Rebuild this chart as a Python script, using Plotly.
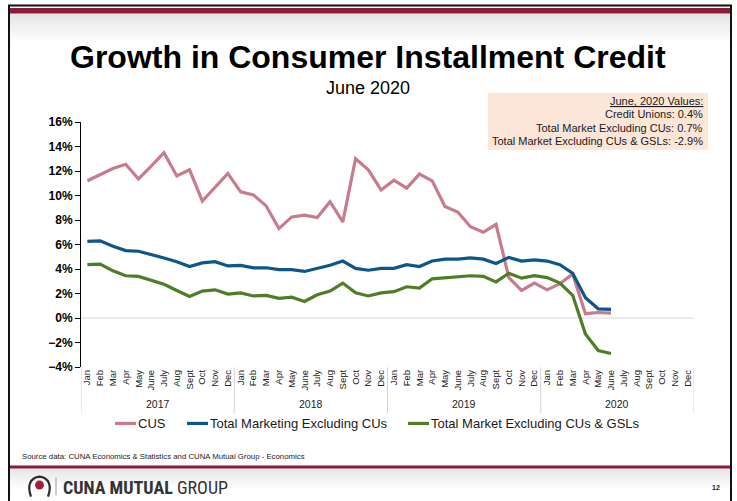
import plotly.graph_objects as go

# ---- data -------------------------------------------------------------
months = ["Jan", "Feb", "Mar", "Apr", "May", "June", "July", "Aug", "Sept", "Oct", "Nov", "Dec"]
years = ["2017", "2018", "2019", "2020"]

cus = [11.2, 11.7, 12.2, 12.55, 11.35, 12.4, 13.5, 11.6, 12.1, 9.55, 10.7, 11.8,
       10.3, 10.05, 9.15, 7.3, 8.25, 8.4, 8.2, 9.5, 7.85, 13.0, 12.1, 10.45,
       11.25, 10.6, 11.75, 11.2, 9.1, 8.65, 7.45, 7.0, 7.65, 3.3, 2.25, 2.85,
       2.3, 2.8, 3.6, 0.35, 0.45, 0.4]
total_ex_cu = [6.25, 6.3, 5.85, 5.5, 5.45, 5.2, 4.9, 4.6, 4.2, 4.5, 4.6, 4.25,
               4.3, 4.1, 4.1, 3.95, 3.95, 3.8, 4.05, 4.3, 4.65, 4.05, 3.9, 4.05,
               4.05, 4.35, 4.2, 4.65, 4.8, 4.8, 4.9, 4.8, 4.45, 4.95, 4.65, 4.75,
               4.65, 4.35, 3.65, 1.65, 0.75, 0.7]
total_ex_cu_gsl = [4.35, 4.4, 3.85, 3.45, 3.4, 3.1, 2.75, 2.25, 1.75, 2.2, 2.3, 1.95,
                   2.05, 1.8, 1.85, 1.6, 1.7, 1.35, 1.9, 2.2, 2.85, 2.05, 1.8, 2.05,
                   2.15, 2.55, 2.45, 3.2, 3.3, 3.4, 3.45, 3.4, 2.95, 3.65, 3.25, 3.45,
                   3.3, 2.85, 1.85, -1.3, -2.65, -2.9]

series_names = ["CUS", "Total Marketing Excluding CUs", "Total Market Excluding CUs & GSLs"]
series_colors = ["#c97a8c", "#0d5689", "#4f7d26"]

# ---- page geometry (pixels) ------------------------------------------
W_PX, H_PX = 737, 501
L, T, R, B = 81, 122.3, 694, 366.7
PW, PH = R - L, B - T


def px(x):
    return (x - L) / PW


def py(y):
    return 1 - (y - T) / PH


FONT = "Liberation Sans, Arial, sans-serif"
n_cat = len(months) * len(years)
x_idx = list(range(n_cat))

fig = go.Figure()
for name, vals, col in zip(series_names, [cus, total_ex_cu, total_ex_cu_gsl], series_colors):
    fig.add_trace(go.Scatter(
        x=x_idx[:len(vals)], y=vals, name=name, mode="lines",
        line=dict(color=col, width=3.2), hoverinfo="skip", showlegend=False,
    ))

shapes = []
annotations = []

# slide frame, top bar and header shading
shapes.append(dict(type="rect", xref="paper", yref="paper", x0=px(9), x1=px(731), y0=py(520), y1=py(6),
                   line=dict(color="#111111", width=2), fillcolor="rgba(0,0,0,0)", layer="below"))
for i in range(14):
    a = 0.16 * (1 - i / 14)
    shapes.append(dict(type="rect", xref="paper", yref="paper", x0=px(10), x1=px(730),
                       y0=py(14 + 2 * i + 2), y1=py(14 + 2 * i), line=dict(width=0),
                       fillcolor=f"rgba(90,90,90,{a:.3f})", layer="below"))
shapes.append(dict(type="rect", xref="paper", yref="paper", x0=px(10), x1=px(730), y0=py(14), y1=py(8.5),
                   line=dict(width=0), fillcolor="#8c1a38", layer="below"))

# footer bar and shading
for i in range(10):
    a = 0.14 * (1 - i / 10)
    shapes.append(dict(type="rect", xref="paper", yref="paper", x0=px(10), x1=px(730),
                       y0=py(468 + 2 * i + 2), y1=py(468 + 2 * i), line=dict(width=0),
                       fillcolor=f"rgba(90,90,90,{a:.3f})", layer="below"))
shapes.append(dict(type="rect", xref="paper", yref="paper", x0=px(10), x1=px(730), y0=py(468), y1=py(465),
                   line=dict(width=0), fillcolor="#8c1a38", layer="below"))

# logo mark
shapes.append(dict(type="circle", xref="paper", yref="paper", x0=px(35), x1=px(44), y0=py(489), y1=py(480),
                   line=dict(width=0), fillcolor="#a3203b"))
shapes.append(dict(type="path", xref="paper", yref="paper",
                   path=f"M {px(31)} {py(496)} C {px(27)} {py(485)}, {px(30)} {py(477)}, {px(39.5)} {py(476)} "
                        f"C {px(49)} {py(477)}, {px(52)} {py(485)}, {px(48)} {py(496)}",
                   line=dict(color="#2b2b2b", width=2.2)))
shapes.append(dict(type="line", xref="paper", yref="paper", x0=px(56), x1=px(56), y0=py(495), y1=py(477),
                   line=dict(color="#9a9a9a", width=1)))
annotations.append(dict(xref="paper", yref="paper", x=px(61), y=py(487), xanchor="left", yanchor="middle",
                        text="<b>CUNA MUTUAL</b> GROUP", showarrow=False,
                        font=dict(family="Roboto Condensed, Roboto, Liberation Sans, sans-serif", size=18,
                                  color="#333333")))
annotations.append(dict(xref="paper", yref="paper", x=px(722), y=py(487), xanchor="right", yanchor="middle",
                        text="<b>12</b>", showarrow=False, font=dict(family=FONT, size=7, color="#222222")))
annotations.append(dict(xref="paper", yref="paper", x=px(20), y=py(456), xanchor="left", yanchor="middle",
                        text="Source data: CUNA Economics & Statistics and CUNA Mutual Group - Economics",
                        showarrow=False, font=dict(family=FONT, size=7.8, color="#222222")))

# titles
annotations.append(dict(xref="paper", yref="paper", x=px(368), y=py(57), xanchor="center", yanchor="middle",
                        text="<b>Growth in Consumer Installment Credit</b>", showarrow=False,
                        font=dict(family=FONT, size=32, color="#000000")))
annotations.append(dict(xref="paper", yref="paper", x=px(368), y=py(88), xanchor="center", yanchor="middle",
                        text="June 2020", showarrow=False, font=dict(family=FONT, size=18, color="#000000")))

# latest values box
last_month = months[(len(cus) - 1) % 12]
last_year = years[(len(cus) - 1) // 12]
shapes.append(dict(type="rect", xref="paper", yref="paper", x0=px(488), x1=px(708), y0=py(150), y1=py(93),
                   line=dict(width=0), fillcolor="#fbe6d8", layer="below"))
box_lines = [
    f"<u>{last_month}, {last_year} Values:</u>",
    f"Credit Unions: {cus[-1]:.1f}%",
    f"Total Market Excluding CUs: {total_ex_cu[-1]:.1f}%",
    f"Total Market Excluding CUs & GSLs: {total_ex_cu_gsl[-1]:.1f}%",
]
for k, line in enumerate(box_lines):
    annotations.append(dict(xref="paper", yref="paper", x=px(705), y=py(101.5 + 13.3 * k),
                            xanchor="right", yanchor="middle", text=line, showarrow=False,
                            font=dict(family=FONT, size=11, color="#1a1a1a")))

# legend: short line sample followed by the series name
legend_x = [115, 187, 408]
for name, col, lx in zip(series_names, series_colors, legend_x):
    shapes.append(dict(type="line", xref="paper", yref="paper", x0=px(lx), x1=px(lx + 21),
                       y0=py(423), y1=py(423), line=dict(color=col, width=3.2)))
    annotations.append(dict(xref="paper", yref="paper", x=px(lx + 21), y=py(423), xanchor="left",
                            yanchor="middle", text=name, showarrow=False,
                            font=dict(family=FONT, size=13, color="#1a1a1a")))

# year labels and category dividers
for k, yr in enumerate(years):
    annotations.append(dict(xref="x", yref="paper", x=12 * k + 5.5, y=py(404), xanchor="center",
                            yanchor="middle", text=yr, showarrow=False,
                            font=dict(family=FONT, size=10.5, color="#222222")))
for k in range(len(years) + 1):
    shapes.append(dict(type="line", xref="x", yref="paper", x0=12 * k - 0.5, x1=12 * k - 0.5,
                       y0=py(367), y1=py(413), line=dict(color="#d4d4d4", width=1)))

# zero line
shapes.append(dict(type="line", xref="paper", yref="y", x0=0, x1=1, y0=0, y1=0,
                   line=dict(color="#d6d6d6", width=1), layer="below"))

fig.update_layout(
    width=W_PX, height=H_PX,
    margin=dict(l=L, r=W_PX - R, t=T, b=H_PX - B, pad=0),
    paper_bgcolor="white", plot_bgcolor="white",
    shapes=shapes, annotations=annotations,
    showlegend=False,
    xaxis=dict(range=[-0.5, n_cat - 0.5], tickmode="array", tickvals=x_idx,
               ticktext=[m for _ in years for m in months], tickangle=-90,
               tickfont=dict(family=FONT, size=9.5, color="#222222"), ticks="",
               showgrid=False, zeroline=False, showline=False, fixedrange=True),
    yaxis=dict(range=[-4, 16], dtick=2, tickformat=".0f",
               tickprefix="<b>", ticksuffix="%</b>",
               tickfont=dict(family=FONT, size=12, color="#000000"),
               ticks="outside", ticklen=5, tickcolor="#000000", tickwidth=1,
               showline=True, linecolor="#000000", linewidth=1,
               showgrid=False, zeroline=False, fixedrange=True),
)

fig.write_html("out.html")
